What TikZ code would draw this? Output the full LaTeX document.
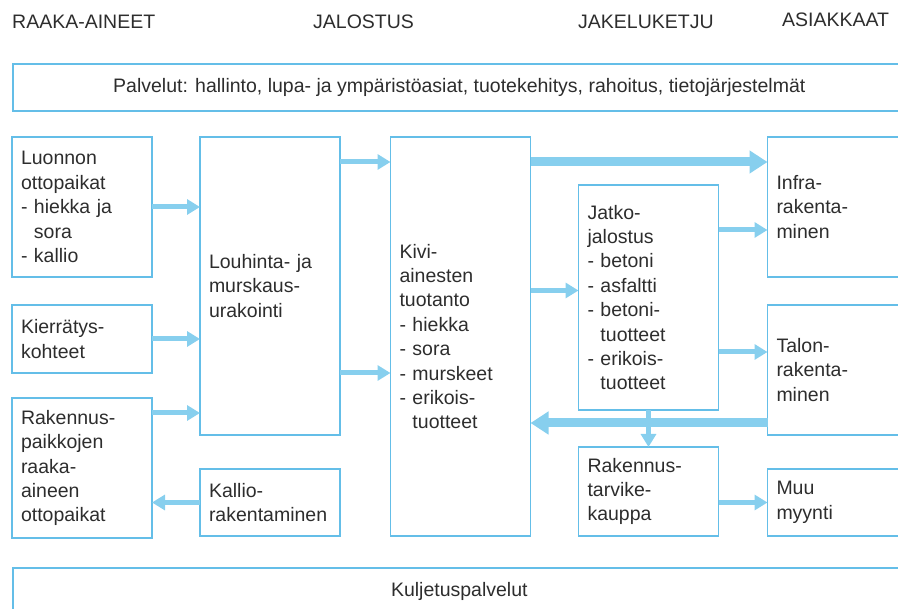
\documentclass[tikz,border=0pt]{standalone}
\usepackage{fontspec}
\setmainfont{Liberation Sans}
\usetikzlibrary{positioning,arrows.meta}
\definecolor{boxblue}{RGB}{100,190,232}
\definecolor{flowblue}{RGB}{135,207,238}
\definecolor{txtgray}{RGB}{45,45,45}
\newcommand{\txtfont}{\fontsize{19.5}{24.4}\selectfont}
\newcommand{\ind}{\phantom{- }}
\tikzset{
  box/.style={draw=boxblue,line width=1.6pt,inner xsep=9pt,inner ysep=0pt,outer sep=0pt,
    text width=122pt,align=left,text=txtgray,font=\txtfont},
  band/.style={draw=boxblue,line width=1.6pt,minimum width=893pt,minimum height=47pt,
    anchor=north west,text=txtgray,font=\txtfont},
  head/.style={anchor=base west,inner sep=0pt,text=txtgray,font=\txtfont},
  flow/.style={draw=flowblue,line width=5pt,-{Triangle[length=13pt,width=15pt]}},
  bigflow/.style={draw=flowblue,line width=9pt,-{Triangle[length=18pt,width=22pt]}}
}

\begin{document}
\begin{tikzpicture}[x=1pt,y=-1pt]
\useasboundingbox (0,0) rectangle (898,609);
% headings
\node[head] (raaka) at (12,29) {RAAKA-AINEET};
\node[head] (jalostus) at (313,29) {JALOSTUS};
\node[head] (jakelu) at (578,29) {JAKELUKETJU};
\node[head] (asiakkaat) at (782,27) {ASIAKKAAT};
% bands
\node[band] (palvelut) at (12,63) {Palvelut: hallinto, lupa- ja ymp\"arist\"oasiat, tuotekehitys, rahoitus, tietoj\"arjestelm\"at};
\node[band] (kuljetus) at (12,567) {Kuljetuspalvelut};
% boxes
\node[box,minimum height=140pt,anchor=north west] (luonnon) at (12,137)
  {Luonnon\\ottopaikat\\- hiekka ja\\\ind sora\\- kallio};
\node[box,minimum height=68pt] (kierratys) [below=28pt of luonnon] {Kierr\"atys-\\kohteet};
\node[box,minimum height=140pt] (rakpaikka) [below=25pt of kierratys]
  {Rakennus-\\paikkojen\\raaka-\\aineen\\ottopaikat};
\node[box,minimum height=298pt] (louhinta) [right=48pt of luonnon.north east,anchor=north west]
  {Louhinta- ja\\murskaus-\\urakointi};
\node[box,minimum height=67pt] (kallio) [below=34pt of louhinta] {Kallio-\\rakentaminen};
\node[box,minimum height=399pt] (kivi) [right=50.5pt of louhinta.north east,anchor=north west]
  {Kivi-\\ainesten\\tuotanto\\- hiekka\\- sora\\- murskeet\\- erikois-\\\ind tuotteet};
\node[box,minimum height=225pt] (jatko) [right=48pt of kivi.north east,anchor=north west,yshift=-48pt]
  {Jatko-\\jalostus\\- betoni\\- asfaltti\\- betoni-\\\ind tuotteet\\- erikois-\\\ind tuotteet};
\node[box,minimum height=89pt] (tarvike) [below=37pt of jatko] {Rakennus-\\tarvike-\\kauppa};
\node[box,minimum height=140pt] (infra) [right=49pt of jatko.north east,anchor=north west,yshift=48pt]
  {Infra-\\rakenta-\\minen};
\node[box,minimum height=130pt] (talon) [below=28pt of infra] {Talon-\\rakenta-\\minen};
\node[box,minimum height=67pt] (muu) [below=34pt of talon] {Muu\\myynti};
% helper points for the flows
\coordinate (r1) at ([yshift=-15pt]rakpaikka.north east);
\coordinate (l1) at ([yshift=-25pt]louhinta.north east);
\coordinate (l2) at ([yshift=62pt]louhinta.south east);
\coordinate (k1) at ([yshift=-25pt]kivi.north east);
\coordinate (j0) at ([yshift=7pt]jatko.west);
\coordinate (j1) at ([yshift=-45pt]jatko.north east);
\coordinate (j2) at ([yshift=-47pt]talon.north west);
\coordinate (t1) at ([yshift=12pt]talon.south west);
% flows
\draw[flow] (luonnon.east) -- (luonnon.east -| louhinta.west);
\draw[flow] (kierratys.east) -- (kierratys.east -| louhinta.west);
\draw[flow] (r1) -- (r1 -| louhinta.west);
\draw[flow] (kallio.west) -- (kallio.west -| rakpaikka.east);
\draw[flow] (l1) -- (l1 -| kivi.west);
\draw[flow] (l2) -- (l2 -| kivi.west);
\draw[bigflow] (k1) -- (k1 -| infra.west);
\draw[flow] (j0 -| kivi.east) -- (j0);
\draw[flow] (j1) -- (j1 -| infra.west);
\draw[flow] (j2 -| jatko.east) -- (j2);
\draw[bigflow] (t1) -- (t1 -| kivi.east);
\draw[flow] (jatko.south) -- (tarvike.north);
\draw[flow] (muu.west -| tarvike.east) -- (muu.west);
\end{tikzpicture}
\end{document}
